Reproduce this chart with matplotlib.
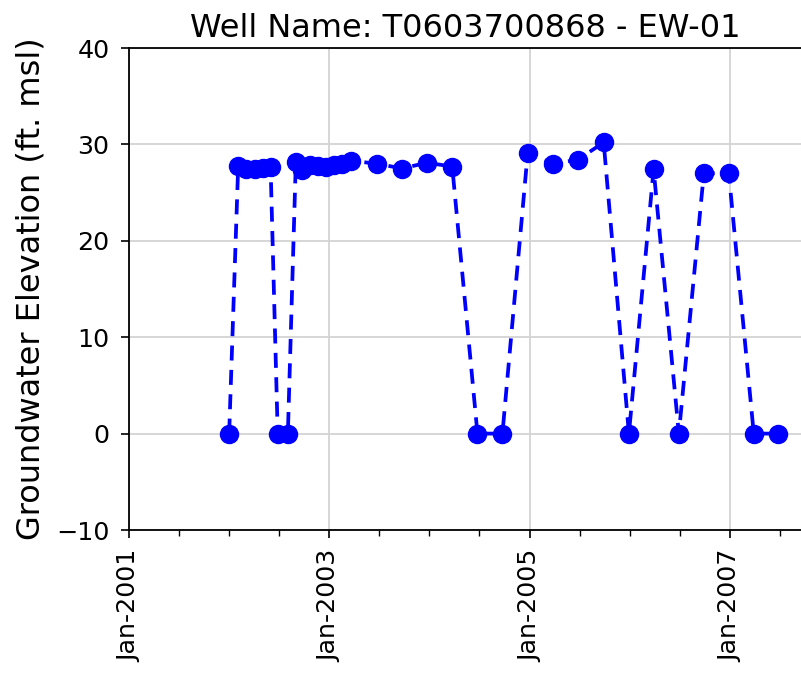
import matplotlib
matplotlib.use("Agg")
import matplotlib.pyplot as plt
import matplotlib.dates as mdates
import pandas as pd

dates = ["2002-01-01", "2002-02-03", "2002-03-04", "2002-04-04", "2002-05-03",
         "2002-06-01", "2002-06-27", "2002-08-03", "2002-09-01", "2002-09-23",
         "2002-10-22", "2002-11-20", "2002-12-19", "2003-01-19", "2003-02-17",
         "2003-03-21", "2003-06-24", "2003-09-23", "2003-12-23", "2004-03-24",
         "2004-06-24", "2004-09-23", "2004-12-24", "2005-03-25", "2005-06-24",
         "2005-09-27", "2005-12-28", "2006-03-28", "2006-06-28", "2006-09-27",
         "2006-12-27", "2007-03-28", "2007-06-25"]
elevation = [0, 27.8, 27.5, 27.5, 27.6,
             27.7, 0, 0, 28.2, 27.3,
             27.9, 27.8, 27.7, 27.9, 28.0,
             28.3, 28.0, 27.5, 28.1, 27.7,
             0, 0, 29.1, 28.0, 28.4,
             30.2, 0, 27.4, 0, 27.0,
             27.0, 0, 0]
xtick_dates = ["2001-01-01", "2003-01-01", "2005-01-01", "2007-01-01"]
title = "Well Name: T0603700868 - EW-01"
ylabel = "Groundwater Elevation (ft. msl)"

x = pd.to_datetime(dates)

fig = plt.figure(figsize=(8.01, 6.75), dpi=100)
ax = fig.add_axes([129/801, 1 - 530/675, (801 - 129)/801 + 0.002, (530 - 48)/675])
ax.plot(x, elevation, color="blue", linestyle="--", linewidth=2.7,
        marker="o", markersize=13, zorder=3, dashes=(4, 2.5))

ax.set_ylim(-10, 40)
ax.set_yticks([-10, 0, 10, 20, 30, 40])
ax.set_xlim(pd.Timestamp("2001-01-01"), pd.Timestamp("2007-09-22"))
ax.set_xticks(pd.to_datetime(xtick_dates))
ax.xaxis.set_minor_locator(mdates.MonthLocator(bymonth=[1, 7]))
ax.xaxis.set_major_formatter(mdates.DateFormatter("%b-%Y"))
ax.grid(True, which="major", color="#d3d3d3", linewidth=1.3)
ax.set_axisbelow(True)
ax.spines["right"].set_visible(False)
for s in ["left", "bottom", "top"]:
    ax.spines[s].set_linewidth(1.3)
ax.tick_params(axis="both", which="major", labelsize=18.3, length=6, width=1.2, pad=8)
ax.tick_params(axis="x", which="minor", length=4.5, width=1.0)
plt.setp(ax.get_xticklabels(), rotation=90)
ax.set_ylabel(ylabel, fontsize=23, labelpad=7)
ax.set_title(title, fontsize=23, pad=8)

fig.savefig("out.png", dpi=100)
